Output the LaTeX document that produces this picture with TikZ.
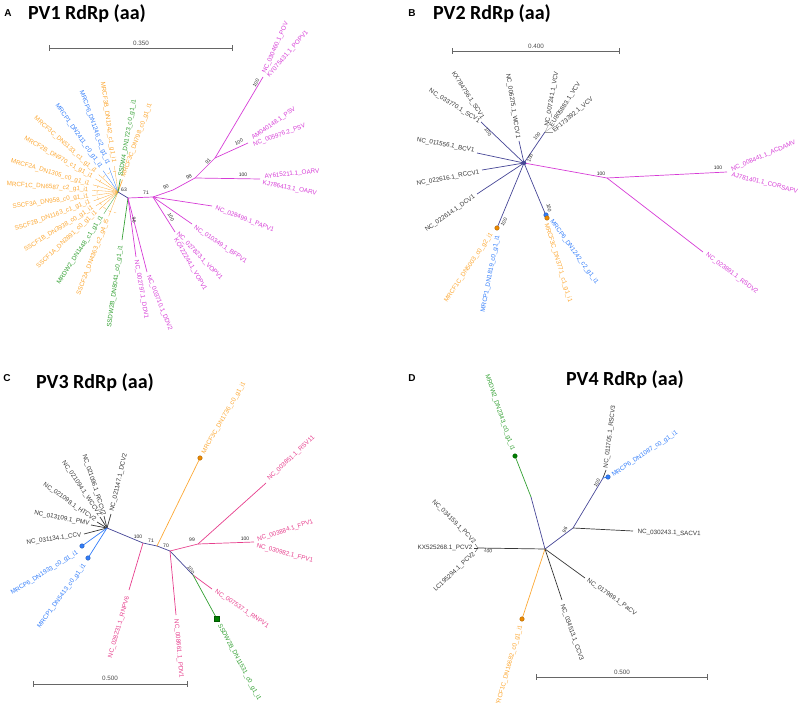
\documentclass[tikz,border=0pt]{standalone}
\usepackage{fontspec}
\setmainfont{Liberation Sans}
\newfontfamily\calibri{Carlito}
\usepackage{tikz}
\usetikzlibrary{calc}
\definecolor{pvmag}{RGB}{214,60,214}
\definecolor{pvpink}{RGB}{230,62,140}
\definecolor{pvorange}{RGB}{252,168,52}
\definecolor{pvdot}{RGB}{238,138,0}
\definecolor{pvblue}{RGB}{50,125,250}
\definecolor{pvgreen}{RGB}{50,160,50}
\definecolor{pvnavy}{RGB}{70,70,150}
\definecolor{pvgrey}{RGB}{55,55,55}
\tikzstyle{leaf} = [inner sep=0.5pt, font=\fontsize{6.3}{7}\selectfont]
\tikzstyle{boot} = [inner sep=0pt, font=\fontsize{5}{5}\selectfont, text=black!85]
\tikzstyle{branch} = [line width=0.7pt]
\tikzstyle{fanline} = [line width=0.3pt]
\tikzstyle{title} = [font=\calibri\bfseries\fontsize{20}{24}\selectfont]
\tikzstyle{panel} = [font=\bfseries\fontsize{10}{12}\selectfont]
\tikzstyle{scalebar} = [line width=0.6pt, black!60, |-|]
\tikzstyle{dot} = [circle, inner sep=0pt, minimum size=4.5pt]

\begin{document}
\begin{tikzpicture}[x=1pt, y=-1pt]
	\useasboundingbox (0,0) rectangle (800,703);

	%% A : PV1
	\node[panel] (pa) at (8,13) {A};
	\node[title] (ta) at (87,14) {PV1 RdRp (aa)};
	\coordinate (sa1) at (49,48);
	\coordinate (sa2) at (233,48);
	\draw[scalebar] (sa1) -- (sa2);
	\node[leaf, text=black!70] (sal) at (141,43) {0.350};

	\coordinate (a0) at (118,192);
	\coordinate (a1) at (128,198);
	\coordinate (a2) at (153,197);
	\coordinate (a3) at (173,190);
	\coordinate (a4) at (195,178);
	\coordinate (a5) at (215,158);
	\coordinate (a6) at (175,232);
	\coordinate (oarv) at (260,179);
	\coordinate (psv) at (248,143);
	\coordinate (pov) at (263,77);
	\coordinate (papv) at (212,206);
	\coordinate (bfpv) at (192,224);
	\coordinate (ddv1) at (136,257);
	\coordinate (ddv2) at (147,272);
	\coordinate (dw2b) at (122,240);

	\draw[pvorange, dashed, fanline] ($(a0)+(-95:21)$) arc[start angle=-95, end angle=-265, radius=21];
	\foreach \a/\t/\c [count=\i] in {-82/MRCF3B\_DN1342\_c1\_g1\_i1/pvorange, -70/MRCP6\_DN1246\_c2\_g1\_i1/pvblue, -55/MRCP1\_DN2411\_c0\_g1\_i1/pvblue, -42/MRCF3C\_DN5133\_c1\_g1\_i1/pvorange, -30/MRCF2B\_DN970\_c1\_g1\_i1/pvorange, -16/MRCF2A\_DN1305\_c0\_g1\_i1/pvorange, -4/MRCF1C\_DN6587\_c2\_g1\_i1/pvorange, 8/SSCF3A\_DN958\_c0\_g1\_i1/pvorange, 20/SSCF2B\_DN1163\_c1\_g1\_i1/pvorange, 32/SSCF1B\_DN3938\_c0\_g1\_i1/pvorange, 43/SSCF1A\_DN2891\_c0\_g1\_i1/pvorange, 57/MRDW2\_DN1448\_c1\_g1\_i1/pvgreen, 69/SSCF2A\_DN4363\_c2\_g4\_i5/pvorange}{
		\coordinate (fe\i) at ($(a0)+({-(\a+180)}:26)$);
		\draw[fanline, \c] (a0) -- (fe\i);
		\node[leaf, text=\c, rotate=\a, anchor=east] (fl\i) at ($(a0)+({-(\a+180)}:29)$) {\t};
	}
	\foreach \a/\t/\c [count=\i] in {70/MRCF3C\_DN798\_c0\_g1\_i1/pvorange, 80/SSDW4\_DN1723\_c0\_g1\_i1/pvgreen}{
		\coordinate (ge\i) at ($(a0)+({-\a}:13)$);
		\draw[branch, \c] (a0) -- (ge\i);
		\node[leaf, text=\c, rotate=\a, anchor=west] (gl\i) at ($(a0)+({-\a}:15)$) {\t};
	}

	\draw[branch, pvnavy] (a0) -- (a1);
	\draw[branch, pvgreen] (a1) -- (dw2b);
	\draw[branch, pvmag] (a1) -- (a2) -- (a3) -- (a4) -- (oarv);
	\draw[branch, pvmag] (a4) -- (a5) -- (psv);
	\draw[branch, pvmag] (a5) -- (pov);
	\draw[branch, pvmag] (a2) -- (papv);
	\draw[branch, pvmag] (a2) -- (bfpv);
	\draw[branch, pvmag] (a2) -- (a6);
	\draw[branch, pvmag] (a1) -- (ddv1);
	\draw[branch, pvmag] (a1) -- (ddv2);

	\node[leaf, text=pvgreen, rotate=82, anchor=east] (dw2bl) at (121,245) {SSDW2B\_DN8041\_c0\_g1\_i1};
	\node[leaf, text=pvmag, rotate=6, anchor=west] (oarv1) at (264,177) {AY615211.1\_OARV};
	\node[leaf, text=pvmag, rotate=-11, anchor=west] (oarv2) at (262,183) {KJ786413.1\_OARV};
	\node[leaf, text=pvmag, rotate=35, anchor=west] (psv1) at (252,139) {AM040148.1\_PSV};
	\node[leaf, text=pvmag, rotate=20, anchor=west] (psv2) at (253,145) {NC\_005976.2\_PSV};
	\node[leaf, text=pvmag, rotate=66, anchor=west] (pov1) at (264,74) {NC\_030460.1\_POV};
	\node[leaf, text=pvmag, rotate=49, anchor=west] (pov2) at (268,77) {KY075431.1\_POPV1};
	\node[leaf, text=pvmag, rotate=-21, anchor=west] (papvl) at (215,208) {NC\_028499.1\_PAPV1};
	\node[leaf, text=pvmag, rotate=-34, anchor=west] (bfpvl) at (194,227) {NC\_010349.1\_BFPV1};
	\node[leaf, text=pvmag, rotate=-46, anchor=west] (vopv1) at (177,233) {NC\_027823.1\_VOPV1};
	\node[leaf, text=pvmag, rotate=-60, anchor=west] (vopv2) at (175,238) {KC422244.1\_VOPV1};
	\node[leaf, text=pvmag, rotate=-80, anchor=west] (ddv1l) at (136,260) {NC\_002797.1\_DDV1};
	\node[leaf, text=pvmag, rotate=-68, anchor=west] (ddv2l) at (148,275) {NC\_003710.1\_DDV2};

	\node[boot] (ba1) at (124,190) {63};
	\node[boot] (ba2) at (146,193) {71};
	\node[boot, rotate=25] (ba3) at (166,187) {90};
	\node[boot, rotate=30] (ba4) at (189,177) {98};
	\node[boot] (ba5) at (243,175) {100};
	\node[boot, rotate=45] (ba6) at (208,161) {91};
	\node[boot, rotate=25] (ba7) at (239,142) {100};
	\node[boot, rotate=60] (ba8) at (256,83) {100};
	\node[boot, rotate=-60] (ba9) at (171,217) {100};
	\node[boot, rotate=-80] (ba10) at (134,220) {96};

	%% B : PV2
	\node[panel] (pb) at (412,13) {B};
	\node[title] (tb) at (492,14) {PV2 RdRp (aa)};
	\coordinate (sb1) at (452,51);
	\coordinate (sb2) at (620,51);
	\draw[scalebar] (sb1) -- (sb2);
	\node[leaf, text=black!70] (sbl) at (536,46) {0.400};

	\coordinate (b0) at (524,163);
	\coordinate (b1) at (607,178);
	\coordinate (scv) at (481,122);
	\coordinate (wccv) at (519,141);
	\coordinate (vcv) at (545,132);
	\coordinate (bcv) at (477,153);
	\coordinate (rccv) at (482,170);
	\coordinate (dcv) at (477,194);
	\coordinate (bo) at (497,228);
	\coordinate (bob) at (547,218);
	\coordinate (acd) at (727,172);
	\coordinate (rsd) at (703,252);
	\coordinate (vcv1) at (548,126);
	\coordinate (vcv2) at (552,127);
	\coordinate (vcv3) at (553,132);

	\draw[branch, pvnavy] (b0) -- (scv);
	\draw[branch, pvnavy] (b0) -- (wccv);
	\draw[branch, pvnavy] (b0) -- (vcv);
	\draw[branch, pvnavy] (b0) -- (bcv);
	\draw[branch, pvnavy] (b0) -- (rccv);
	\draw[branch, pvnavy] (b0) -- (dcv);
	\draw[branch, pvnavy] (b0) -- (bo);
	\draw[branch, pvnavy] (b0) -- (bob);
	\draw[fanline, black!40] (vcv) -- (vcv1);
	\draw[fanline, black!40] (vcv) -- (vcv2);
	\draw[fanline, black!40] (vcv) -- (vcv3);
	\draw[branch, pvmag] (b0) -- (b1) -- (acd);
	\draw[branch, pvmag] (b1) -- (rsd);
	\node[dot, fill=pvnavy] (b0dot) at (b0) {};
	\node[dot, fill=pvdot, draw=pvdot!70!black] (bodot) at (bo) {};
	\node[dot, fill=pvblue, draw=pvblue!70!black] (bobdot1) at (546,215) {};
	\node[dot, fill=pvdot, draw=pvdot!70!black] (bobdot2) at (bob) {};

	\node[leaf, text=pvgrey, rotate=-57, anchor=east] (scv1) at (483,119) {KX784756.1\_SCV1};
	\node[leaf, text=pvgrey, rotate=-32, anchor=east] (scv2) at (480,122) {NC\_033770.1\_SCV1};
	\node[leaf, text=pvgrey, rotate=-81, anchor=east] (wccvl) at (518,139) {NC\_006275.1\_WCCV1};
	\node[leaf, text=pvgrey, rotate=80, anchor=west] (vcvl1) at (547,127) {NC\_007241.1\_VCV};
	\node[leaf, text=pvgrey, rotate=57, anchor=west] (vcvl2) at (551,127) {EU805883.1\_VCV};
	\node[leaf, text=pvgrey, rotate=40, anchor=west] (vcvl3) at (553,132) {EF173392.1\_VCV};
	\node[leaf, text=pvgrey, rotate=-11, anchor=east] (bcvl) at (475,151) {NC\_011556.1\_BCV1};
	\node[leaf, text=pvgrey, rotate=11, anchor=east] (rccvl) at (480,172) {NC\_022616.1\_RCCV1};
	\node[leaf, text=pvgrey, rotate=35, anchor=east] (dcvl) at (475,196) {NC\_022614.1\_DCV1};
	\node[leaf, text=pvorange, rotate=56, anchor=east] (bol1) at (492,233) {MRCF1C\_DN5003\_c0\_g2\_i1};
	\node[leaf, text=pvblue, rotate=79, anchor=east] (bol2) at (498,235) {MRCP1\_DN1819\_c0\_g1\_i1};
	\node[leaf, text=pvorange, rotate=-73, anchor=west] (bobl1) at (546,223) {MRCF3C\_DN3771\_c1\_g1\_i1};
	\node[leaf, text=pvblue, rotate=-54, anchor=west] (bobl2) at (551,220) {MRCP6\_DN1242\_c2\_g1\_i1};
	\node[leaf, text=pvmag, rotate=23, anchor=west] (acdl) at (731,170) {NC\_008441.1\_ACDAMV};
	\node[leaf, text=pvmag, rotate=-14, anchor=west] (corl) at (731,175) {AJ781401.1\_CORSAPV};
	\node[leaf, text=pvmag, rotate=-37, anchor=west] (rsdl) at (706,254) {NC\_023891.1\_RSDV2};

	\node[boot, rotate=-55] (bb1) at (488,132) {100};
	\node[boot, rotate=70] (bb2) at (530,158) {100};
	\node[boot, rotate=50] (bb3) at (537,136) {100};
	\node[boot, rotate=60] (bb4) at (504,222) {100};
	\node[boot, rotate=-80] (bb5) at (549,208) {100};
	\node[boot] (bb6) at (601,174) {100};
	\node[boot] (bb7) at (718,168) {100};

	%% C : PV3
	\node[panel] (pc) at (7,378) {C};
	\node[title] (tc) at (95,383) {PV3 RdRp (aa)};
	\coordinate (sc1) at (33,684);
	\coordinate (sc2) at (188,684);
	\draw[scalebar] (sc1) -- (sc2);
	\node[leaf, text=black!70] (scl) at (110,678) {0.500};

	\coordinate (c0) at (107,528);
	\coordinate (c1) at (143,543);
	\coordinate (c2) at (157,546);
	\coordinate (c3) at (170,551);
	\coordinate (c4) at (198,544);
	\coordinate (c5) at (193,575);
	\coordinate (dcv2) at (111,514);
	\coordinate (rccv2) at (104,516);
	\coordinate (wccv2) at (100,517);
	\coordinate (htcv2) at (97,522);
	\coordinate (pmv) at (91,525);
	\coordinate (ccv) at (84,534);
	\coordinate (cp6) at (82,546);
	\coordinate (cp1) at (88,558);
	\coordinate (rnpv6) at (129,590);
	\coordinate (mo) at (200,458);
	\coordinate (pdv) at (176,615);
	\coordinate (rsv) at (266,483);
	\coordinate (fpv) at (254,542);
	\coordinate (rhpv) at (212,589);
	\coordinate (gs) at (217,619);

	\draw[branch, pvgrey] (c0) -- (dcv2);
	\draw[branch, pvgrey] (c0) -- (rccv2);
	\draw[branch, pvgrey] (c0) -- (wccv2);
	\draw[branch, pvgrey] (c0) -- (htcv2);
	\draw[branch, pvgrey] (c0) -- (pmv);
	\draw[branch, pvgrey] (c0) -- (ccv);
	\draw[branch, pvblue] (c0) -- (cp6);
	\draw[branch, pvblue] (c0) -- (cp1);
	\draw[branch, pvnavy] (c0) -- (c1) -- (c2) -- (c3) -- (c5);
	\draw[branch, pvpink] (c1) -- (rnpv6);
	\draw[branch, pvorange] (c2) -- (mo);
	\draw[branch, pvpink] (c3) -- (pdv);
	\draw[branch, pvpink] (c3) -- (c4) -- (rsv);
	\draw[branch, pvpink] (c4) -- (fpv);
	\draw[branch, pvpink] (c5) -- (rhpv);
	\draw[branch, pvgreen] (c5) -- (gs);
	\node[dot, fill=pvblue, draw=pvblue!70!black] (cp6dot) at (cp6) {};
	\node[dot, fill=pvblue, draw=pvblue!70!black] (cp1dot) at (cp1) {};
	\node[dot, fill=pvdot, draw=pvdot!70!black] (modot) at (mo) {};
	\node[fill=green!50!black, draw=green!35!black, inner sep=0pt, minimum size=5pt] (gsdot) at (gs) {};

	\node[leaf, text=pvgrey, rotate=77, anchor=west] (dcv2l) at (112,512) {NC\_021147.1\_DCV2};
	\node[leaf, text=pvgrey, rotate=-72, anchor=east] (rccv2l) at (104,516) {NC\_021096.1\_RCCV2};
	\node[leaf, text=pvgrey, rotate=-56, anchor=east] (wccv2l) at (100,516) {NC\_021094.1\_WCCV2};
	\node[leaf, text=pvgrey, rotate=-35, anchor=east] (htcv2l) at (96,521) {NC\_021098.1\_HTCV2};
	\node[leaf, text=pvgrey, rotate=-11, anchor=east] (pmvl) at (90,524) {NC\_013109.1\_PMV};
	\node[leaf, text=pvgrey, rotate=8, anchor=east] (ccvl) at (82,535) {NC\_031134.1\_CCV};
	\node[leaf, text=pvblue, rotate=32, anchor=east] (cp6l) at (78,552) {MRCP6\_DN1933\_c0\_g1\_i1};
	\node[leaf, text=pvblue, rotate=54, anchor=east] (cp1l) at (85,564) {MRCP1\_DN5413\_c0\_g1\_i1};
	\node[leaf, text=pvpink, rotate=74, anchor=east] (rnpv6l) at (128,596) {NC\_028231.1\_RNPV6};
	\node[leaf, text=pvorange, rotate=60, anchor=west] (mol) at (203,454) {MRCF3C\_DN1736\_c0\_g1\_i1};
	\node[leaf, text=pvpink, rotate=-85, anchor=west] (pdvl) at (176,619) {NC\_008661.1\_PDV1};
	\node[leaf, text=pvpink, rotate=43, anchor=west] (rsvl) at (268,480) {NC\_003851.1\_RSV11};
	\node[leaf, text=pvpink, rotate=18, anchor=west] (fpvl1) at (257,540) {NC\_003884.1\_FPV1};
	\node[leaf, text=pvpink, rotate=-15, anchor=west] (fpvl2) at (256,546) {NC\_030982.1\_FPV1};
	\node[leaf, text=pvpink, rotate=-34, anchor=west] (rhpvl) at (215,591) {NC\_007537.1\_RNPV1};
	\node[leaf, text=pvgreen, rotate=-62, anchor=west] (gsl) at (219,624) {SSDW2B\_DN11531\_c0\_g1\_i1};

	\node[boot] (bc1) at (138,537) {100};
	\node[boot] (bc2) at (151,541) {71};
	\node[boot] (bc3) at (166,546) {70};
	\node[boot] (bc4) at (192,540) {99};
	\node[boot] (bc5) at (245,539) {100};
	\node[boot, rotate=-55] (bc6) at (191,570) {100};

	%% D : PV4
	\node[panel] (pd) at (412,378) {D};
	\node[title] (td) at (625,380) {PV4 RdRp (aa)};
	\coordinate (sd1) at (536,677);
	\coordinate (sd2) at (708,677);
	\draw[scalebar] (sd1) -- (sd2);
	\node[leaf, text=black!70] (sdl) at (622,672) {0.500};

	\coordinate (d0) at (545,549);
	\coordinate (d1) at (531,497);
	\coordinate (dg) at (515,456);
	\coordinate (d2) at (573,528);
	\coordinate (d3) at (603,478);
	\coordinate (rscv) at (606,470);
	\coordinate (db) at (608,477);
	\coordinate (sacv) at (633,531);
	\coordinate (pacv) at (585,578);
	\coordinate (ccv3) at (562,600);
	\coordinate (dor) at (522,619);
	\coordinate (pcv) at (478,548);
	\coordinate (pcv1) at (475,544);
	\coordinate (pcv2) at (474,548);
	\coordinate (pcv3) at (475,552);

	\draw[branch, pvnavy] (d0) -- (d1);
	\draw[branch, pvgreen] (d1) -- (dg);
	\draw[branch, pvnavy] (d0) -- (d2) -- (d3);
	\draw[branch, pvgrey] (d3) -- (rscv);
	\draw[branch, pvblue] (d3) -- (db);
	\draw[branch, pvgrey] (d2) -- (sacv);
	\draw[branch, pvgrey] (d0) -- (pacv);
	\draw[branch, pvgrey] (d0) -- (ccv3);
	\draw[branch, pvorange] (d0) -- (dor);
	\draw[branch, pvgrey] (d0) -- (pcv);
	\draw[fanline, pvgrey] (pcv) -- (pcv1);
	\draw[fanline, pvgrey] (pcv) -- (pcv2);
	\draw[fanline, pvgrey] (pcv) -- (pcv3);
	\node[dot, fill=green!50!black, draw=green!35!black] (dgdot) at (dg) {};
	\node[dot, fill=pvblue, draw=pvblue!70!black] (dbdot) at (db) {};
	\node[dot, fill=pvdot, draw=pvdot!70!black] (dordot) at (dor) {};

	\node[leaf, text=pvgreen, rotate=-71, anchor=east] (dgl) at (513,451) {MRDW2\_DN2343\_c0\_g1\_i1};
	\node[leaf, text=pvgrey, rotate=83, anchor=west] (rscvl) at (606,469) {NC\_011705.1\_RSCV3};
	\node[leaf, text=pvblue, rotate=34, anchor=west] (dbl) at (612,476) {MRCP6\_DN1087\_c0\_g1\_i1};
	\node[leaf, text=pvgrey, rotate=-2, anchor=west] (sacvl) at (637,532) {NC\_030243.1\_SACV1};
	\node[leaf, text=pvgrey, rotate=-35, anchor=west] (pacvl) at (587,580) {NC\_017989.1\_PaCV};
	\node[leaf, text=pvgrey, rotate=-71, anchor=west] (ccv3l) at (562,604) {NC\_034513.1\_CCV3};
	\node[leaf, text=pvorange, rotate=74, anchor=east] (dorl) at (521,625) {MRCF1C\_DN16682\_c0\_g1\_i1};
	\node[leaf, text=pvgrey, rotate=-45, anchor=east] (pcvl1) at (475,543) {NC\_034159.1\_PCV2};
	\node[leaf, text=pvgrey, anchor=east] (pcvl2) at (473,548) {KX525268.1\_PCV2};
	\node[leaf, text=pvgrey, rotate=43, anchor=east] (pcvl3) at (475,553) {LC195294.1\_PCV2};

	\node[boot, rotate=60] (bd1) at (565,530) {96};
	\node[boot, rotate=60] (bd2) at (597,483) {100};
	\node[boot, rotate=-10] (bd3) at (488,551) {100};
\end{tikzpicture}
\end{document}
